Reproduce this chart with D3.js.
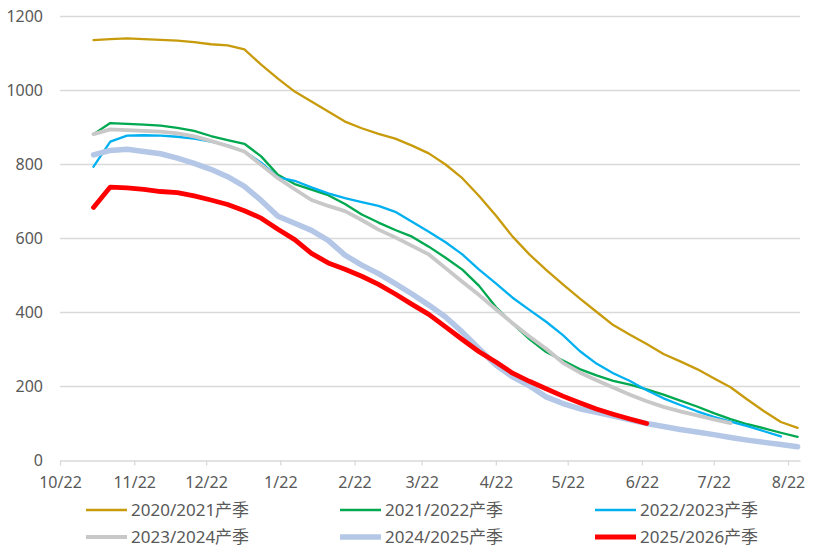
<!DOCTYPE html>
<html lang="zh">
<head>
<meta charset="UTF-8">
<title>产季对比</title>
<style>
  html, body { margin: 0; padding: 0; background: #fff; }
  svg text { font-family: "Noto Sans", "Noto Sans CJK SC", sans-serif; }
</style>
</head>
<body>
<svg id="chart" width="814" height="550"></svg>
<script src="https://d3js.org/d3.v7.min.js"></script>
<script>
// weekly observation dates (season placed on one Oct-Aug calendar)
var weekDates = ["2025-11-05","2025-11-12","2025-11-19","2025-11-26","2025-12-03","2025-12-10","2025-12-17",
  "2025-12-24","2025-12-31","2026-01-07","2026-01-14","2026-01-21","2026-01-28","2026-02-04","2026-02-11",
  "2026-02-18","2026-02-25","2026-03-04","2026-03-11","2026-03-18","2026-03-25","2026-04-01","2026-04-08",
  "2026-04-15","2026-04-22","2026-04-29","2026-05-06","2026-05-13","2026-05-20","2026-05-27","2026-06-03",
  "2026-06-10","2026-06-17","2026-06-24","2026-07-01","2026-07-08","2026-07-15","2026-07-22","2026-07-29",
  "2026-08-05","2026-08-12","2026-08-19","2026-08-26"];

var seasonNames = ["2020/2021产季","2021/2022产季","2022/2023产季","2023/2024产季","2024/2025产季","2025/2026产季"];

var s2020 = [1136,1139,1141,1139,1137,1135,1131,1125,1122,1111,1070,1032,997,970,943,916,898,883,870,851,830,800,763,
  715,662,605,557,515,476,438,402,366,340,315,288,268,247,222,198,165,133,104,88];
var s2021 = [882,912,910,908,905,899,891,877,866,856,822,772,747,732,717,693,665,643,623,605,578,548,516,
  472,415,370,328,293,270,247,230,215,205,192,178,162,146,128,112,98,87,75,64];
var s2022 = [794,862,878,879,878,875,870,862,852,835,805,765,756,738,722,709,698,688,672,645,618,590,557,
  516,479,440,407,375,339,296,262,236,215,190,168,150,133,118,105,93,79,65];
var s2023 = [882,895,893,891,889,884,876,864,850,835,799,763,733,704,688,674,650,624,603,580,557,520,483,
  447,409,371,335,302,264,238,217,197,178,160,145,133,122,111,101];
var s2024 = [826,838,841,835,829,817,803,787,767,741,703,660,641,622,595,555,528,505,478,450,420,388,347,
  302,258,226,202,172,154,140,130,120,110,100,92,84,77,70,62,55,49,43,37];
var s2025 = [684,739,737,733,727,724,715,704,692,675,655,625,597,560,534,517,498,476,450,422,395,361,327,
  294,266,236,214,194,174,156,139,125,112,100];

var seasonColors = ["#C89B0C","#00A84F","#00B0F0","#C8C8C8","#B4C7E7","#FF0000"];
var seasonWidths = [2.3, 2.3, 2.3, 3.8, 5.5, 4.8];

var yTicks = [0, 200, 400, 600, 800, 1000, 1200];
var monthTicks = ["2025-10-22","2025-11-22","2025-12-22","2026-01-22","2026-02-22","2026-03-22",
  "2026-04-22","2026-05-22","2026-06-22","2026-07-22","2026-08-22"];

var parse = d3.timeParse("%Y-%m-%d");
var svg = d3.select("#chart");

var x = d3.scaleTime()
    .domain([parse("2025-10-22"), parse("2026-08-27")])
    .range([60, 800]);
var y = d3.scaleLinear().domain([0, 1200]).range([460.5, 16.5]);

// gridlines
svg.append("g")
    .selectAll("line")
    .data(yTicks.filter(function(d){ return d > 0; }))
    .enter().append("line")
    .attr("x1", 60).attr("x2", 800)
    .attr("y1", function(d){ return y(d); })
    .attr("y2", function(d){ return y(d); })
    .attr("stroke", "#d9d9d9")
    .attr("stroke-width", 1.3);

// y labels
svg.append("g")
    .selectAll("text")
    .data(yTicks)
    .enter().append("text")
    .attr("x", 43)
    .attr("y", function(d){ return y(d); })
    .attr("dy", "0.35em")
    .attr("text-anchor", "end")
    .attr("font-size", "16px")
    .attr("fill", "#595959")
    .text(function(d){ return d; });

// x axis
var xAxis = d3.axisBottom(x)
    .tickValues(monthTicks.map(parse))
    .tickFormat(d3.timeFormat("%-m/%d"))
    .tickSize(5)
    .tickSizeOuter(0);

var gx = svg.append("g")
    .attr("transform", "translate(0," + y(0) + ")")
    .call(xAxis);
gx.select(".domain").attr("stroke", "#d9d9d9").attr("stroke-width", 1.3);
gx.selectAll(".tick line").attr("stroke", "#d9d9d9").attr("stroke-width", 1.3);
gx.selectAll(".tick text")
    .attr("font-size", "16px")
    .attr("font-family", "Noto Sans, sans-serif")
    .attr("fill", "#595959")
    .attr("dy", "1.2em");

// lines
var seriesList = [s2020, s2021, s2022, s2023, s2024, s2025];
var line = d3.line()
    .x(function(d, i){ return x(parse(weekDates[i])); })
    .y(function(d){ return y(d); });

svg.append("g")
    .selectAll("path")
    .data(seriesList)
    .enter().append("path")
    .attr("d", function(d){ return line(d); })
    .attr("fill", "none")
    .attr("stroke", function(d, i){ return seasonColors[i]; })
    .attr("stroke-width", function(d, i){ return seasonWidths[i]; })
    .attr("stroke-linejoin", "round")
    .attr("stroke-linecap", "round");

// legend
var legendCols = [86, 340, 595];
var legendRows = [510, 537];
var lg = svg.append("g")
    .selectAll("g")
    .data(seasonNames)
    .enter().append("g")
    .attr("transform", function(d, i){
        return "translate(" + legendCols[i % 3] + "," + legendRows[Math.floor(i / 3)] + ")";
    });
lg.append("line")
    .attr("x1", 0).attr("x2", 41)
    .attr("stroke", function(d, i){ return seasonColors[i]; })
    .attr("stroke-width", function(d, i){ return seasonWidths[i]; });
lg.append("text")
    .attr("x", 45)
    .attr("dy", "0.36em")
    .attr("font-size", "17px")
    .attr("fill", "#595959")
    .text(function(d){ return d; });
</script>
</body>
</html>
